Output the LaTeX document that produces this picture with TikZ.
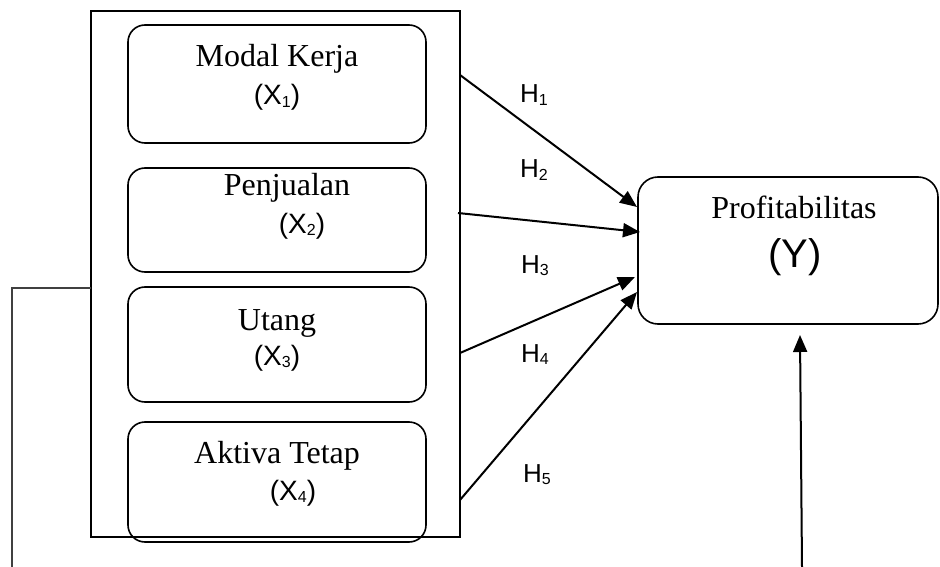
\documentclass[tikz,border=0pt]{standalone}
\usepackage{fontspec}
\setmainfont{Liberation Serif}
\setsansfont{Liberation Sans}
\usetikzlibrary{arrows.meta}
\newcommand{\subdig}[2]{\raisebox{-0.08em}{\fontsize{#1}{#1}\selectfont #2}}
\begin{document}
\begin{tikzpicture}[x=1pt,y=-1pt,
  box/.style={draw, rounded corners=17pt, line width=1.6pt, minimum width=298pt, inner sep=0pt},
  nm/.style={font=\fontsize{32}{36}\selectfont, anchor=base, inner sep=0pt},
  var/.style={font=\sffamily\fontsize{28}{32}\selectfont, anchor=base, inner sep=0pt},
  hl/.style={font=\sffamily\fontsize{26}{28}\selectfont, anchor=base, inner sep=0pt},
  arr/.style={line width=2pt, -{Triangle[length=17pt,width=14pt]}}]
\useasboundingbox (0,0) rectangle (940,567);

% outer group rectangle
\node[draw, line width=2pt, minimum width=369pt, minimum height=526pt, inner sep=0pt] (outer) at (275.5,274) {};

% variable boxes
\node[box, minimum height=118pt] (b1) at (277,84) {};
\node[box, minimum height=104pt] (b2) at (277,220) {};
\node[box, minimum height=115pt] (b3) at (277,344.5) {};
\node[box, minimum height=120pt] (b4) at (277,482) {};

\node[nm] (t1) at (277,67) {Modal Kerja};
\node[var] (v1) at (277,105) {(X\subdig{16}{1})};
\node[nm] (t2) at (287,195) {Penjualan};
\node[var] (v2) at (302,233) {(X\subdig{16}{2})};
\node[nm] (t3) at (277,330) {Utang};
\node[var] (v3) at (277,365) {(X\subdig{16}{3})};
\node[nm] (t4) at (277,463) {Aktiva Tetap};
\node[var] (v4) at (293,500) {(X\subdig{16}{4})};

% dependent variable
\node[draw, rounded corners=20pt, line width=1.6pt, minimum width=300pt, minimum height=147pt, inner sep=0pt] (y) at (788,250.5) {};
\node[nm] (ty) at (794,218) {Profitabilitas};
\node[var, font=\sffamily\fontsize{40}{44}\selectfont] (vy) at (795,267) {(Y)};

% connector end points
\coordinate (s1) at (460,75);   \coordinate (e1) at (637,207);
\coordinate (s2) at (458,213);  \coordinate (e2) at (640,232);
\coordinate (s3) at (460,353);  \coordinate (e3) at (635,277);
\coordinate (s4) at (460,500);  \coordinate (e4) at (637,292);

\draw[arr] (s1) -- (e1);
\draw[arr] (s2) -- (e2);
\draw[arr] (s3) -- (e3);
\draw[arr] (s4) -- (e4);

% hypothesis labels
\node[hl] (h1) at (534,103) {H\subdig{16}{1}};
\node[hl] (h2) at (534,178) {H\subdig{16}{2}};
\node[hl] (h3) at (535,273) {H\subdig{16}{3}};
\node[hl] (h4) at (535,362) {H\subdig{16}{4}};
\node[hl] (h5) at (537,482) {H\subdig{16}{5}};

% left connector
\coordinate (l1) at (91,288);
\coordinate (l2) at (12,288);
\coordinate (l3) at (12,567);
\draw[line width=1.2pt, black!75] (l1) -- (l2) -- (l3);

% bottom arrow into Y
\coordinate (r0) at (802,567);
\coordinate (r1) at (800,335);
\draw[arr] (r0) -- (r1);
\end{tikzpicture}
\end{document}
